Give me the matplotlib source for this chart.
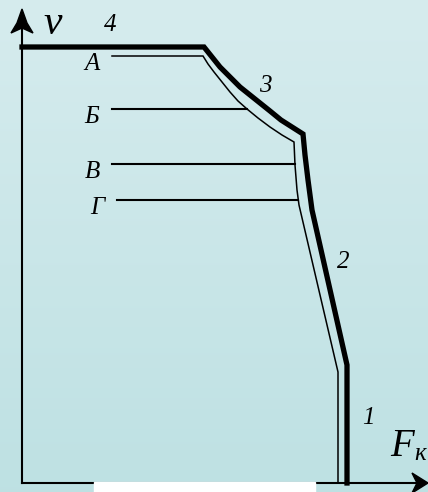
import numpy as np
import matplotlib.pyplot as plt
from matplotlib.patches import Polygon, Rectangle

# traction characteristic v(F), units ~ pixels from the origin
thick_F = [0, 182, 190, 198, 208, 218, 228, 238, 248, 259, 270, 281,
           283, 286, 290, 325, 325]
thick_v = [436, 436, 426, 416, 406, 396, 388, 380, 372, 363, 356, 349,
           328, 303, 273, 118, 0]

thin_F = [90, 181, 186, 192, 200, 208, 216, 225, 236, 248, 260, 272,
          273, 275, 277, 316, 316]
thin_v = [427, 427, 419, 411, 401, 391, 382, 374, 365, 356, 348, 341,
          318, 293, 278, 111, 0]

# levels A, Б, В, Г
level_names = ['A', 'Б', 'В', 'Г']
level_v = [427, 374, 319, 283]
level_start = [90, 90, 90, 95]

segment_names = ['4', '3', '2', '1']
segment_pos = [(88, 458), (243, 397), (321, 221), (346, 65)]

fig = plt.figure(figsize=(4.28, 4.92), dpi=100)
ax = fig.add_axes([0, 0, 1, 1])
ax.set_xlim(-22, 406)
ax.set_ylim(-9, 483)
ax.axis('off')

# background gradient
grad = np.linspace(0, 1, 256).reshape(-1, 1)
top = np.array([0.839, 0.925, 0.933])
bot = np.array([0.745, 0.882, 0.890])
img = top + (bot - top) * grad[:, :, None]
ax.imshow(img, extent=[-22, 406, -9, 483], aspect='auto', zorder=0,
          origin='upper')

# axes with arrows
ax.plot([0, 0], [0, 460], color='black', lw=1.5, zorder=3)
ax.plot([0, 395], [0, 0], color='black', lw=1.5, zorder=3)
ax.add_patch(Polygon([(0, 474), (-5, 460), (-11, 450), (0, 455), (11, 450), (5, 460)],
                     closed=True, color='black', zorder=4))
ax.add_patch(Polygon([(406, 0), (398, 5), (390, 10), (395, 0), (390, -10), (398, -5)],
                     closed=True, color='black', zorder=4))

ax.plot(thick_F, thick_v, color='black', lw=3.8, solid_joinstyle='miter', zorder=3)
ax.plot(thin_F, thin_v, color='black', lw=1.1, solid_joinstyle='miter', zorder=3)

for name, v, f0 in zip(level_names, level_v, level_start):
    f1 = np.interp(v, thin_v[::-1], thin_F[::-1])
    ax.plot([f0, f1], [v, v], color='black', lw=1.5, zorder=3)
    ax.text(f0 - 20, v - 8, name, fontsize=18, style='italic',
            family='Liberation Serif', ha='center', va='center')

for name, (x, y) in zip(segment_names, segment_pos):
    ax.text(x, y, name, fontsize=18, style='italic',
            family='Liberation Serif', ha='center', va='center')

ax.text(31, 459, 'v', fontsize=30, style='italic', family='Liberation Serif',
        ha='center', va='center')
ax.text(380, 36, 'F', fontsize=28, style='italic', family='Liberation Serif',
        ha='center', va='center')
ax.text(398, 29, 'к', fontsize=18, style='italic', family='Liberation Serif',
        ha='center', va='center')

ax.add_patch(Rectangle((72, -9), 221, 10, color='white', zorder=5))

fig.savefig('out.png', dpi=100)
